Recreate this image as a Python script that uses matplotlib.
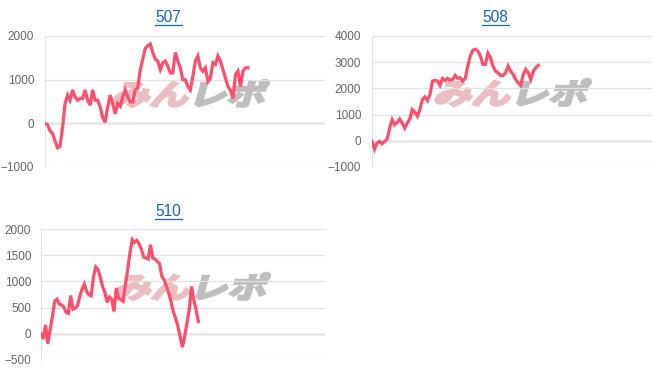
import matplotlib
matplotlib.use("Agg")
from matplotlib import pyplot as plt
from matplotlib.textpath import TextPath
from matplotlib.patches import PathPatch
from matplotlib.font_manager import FontProperties
import matplotlib.transforms as mtransforms
from matplotlib.lines import Line2D


# Data (cumulative difference per machine)
titles = ["507", "508", "510"]

s507 = [0, -31, -172, -226, -406, -562, -530, -94, 452, 647, 530, 764, 608, 530,
        569, 569, 764, 530, 413, 764, 530, 530, 374, 140, 23, 374, 647, 452, 218,
        452, 390, 608, 764, 608, 491, 491, 764, 803, 1232, 1466, 1716, 1778, 1817,
        1622, 1466, 1427, 1232, 1388, 1427, 1310, 1154, 1154, 1622, 1427, 1271,
        998, 998, 842, 764, 1076, 1427, 1544, 1271, 1193, 1271, 959, 1037, 1388,
        1349, 1544, 1427, 1232, 1037, 842, 764, 569, 1115, 1193, 842, 1193, 1271,
        1271]

s508 = [-25, -320, -90, -25, -115, -25, 64, 486, 806, 614, 704, 832, 678, 486,
        678, 832, 1190, 1088, 934, 1190, 1574, 1677, 1536, 1766, 2278, 2304, 2278,
        2112, 2381, 2304, 2381, 2317, 2342, 2496, 2381, 2406, 2278, 2381, 2854,
        3238, 3456, 3494, 3430, 3238, 2918, 2918, 3341, 3174, 2854, 2662, 2598,
        2496, 2496, 2598, 2854, 2662, 2534, 2342, 2214, 2112, 2534, 2726, 2598,
        2342, 2662, 2790, 2880]

s510 = [0, -100, 170, -190, 80, 330, 620, 660, 570, 550, 510, 410, 390, 730, 470,
        490, 535, 713, 850, 950, 810, 745, 726, 1083, 1274, 1223, 1083, 905, 790,
        600, 700, 662, 427, 873, 680, 650, 620, 936, 1223, 1542, 1796, 1745, 1784,
        1720, 1618, 1465, 1446, 1427, 1700, 1446, 1427, 1382, 1337, 1096, 1032,
        905, 777, 620, 427, 300, 153, -50, -255, -50, 204, 459, 905, 650, 459, 236]

series = [s507, s508, s510]
ylims = [(-1000, 2000), (-1000, 4000), (-500, 2000)]
ysteps = [1000, 1000, 500]
fill = [0.725, 0.594, 0.554]   # share of the x axis the data covers

# axes boxes in pixels: left, top, right, bottom
boxes = [(45, 36, 325, 167), (372, 36, 652, 167), (41, 229, 325, 360)]
title_pos = [(168, 17), (495, 17), (168, 211)]
tick_pad = [7.8, 7.8, 7.0]
# lower-left corner of the logo in axes fractions
logo_pos = [(0.239, 0.458), (0.221, 0.465), (0.254, 0.458)]

W, H = 652, 382
fig = plt.figure(figsize=(W / 100, H / 100), dpi=100)

fp = FontProperties(family="Noto Sans CJK JP", weight="bold")
full = TextPath((0, 0), "みんレポ", size=1, prop=fp).get_extents()


def watermark(ax, pos):
	# stylised "みんレポ" logo behind the line, about 153 x 28 px
	sx = 150 / full.width
	sy = 27 / full.height
	parts = [(0, "みん", "#ecbdc0"), (2, "レポ", "#bebebe")]
	for x0, txt, col in parts:
		tp = TextPath((x0, 0), txt, size=1, prop=fp)
		tr = (mtransforms.Affine2D().translate(-full.x0, -full.y0)
		      .scale(sx, sy).skew_deg(16, 0)
		      + mtransforms.ScaledTranslation(pos[0], pos[1], ax.transAxes))
		ax.add_patch(PathPatch(tp, transform=tr, facecolor=col, edgecolor=col,
		                       lw=1.8, zorder=1.5, clip_on=False))


for i in range(3):
	l, t, r, b = boxes[i]
	ax = fig.add_axes([l / W, 1 - b / H, (r - l) / W, (b - t) / H])
	data = series[i]
	x = range(len(data))
	ax.plot(x, data, color="#ff4d6b", lw=2.3, zorder=3, solid_joinstyle="miter")
	ax.set_xlim(0, (len(data) - 1) / fill[i])
	lo, hi = ylims[i]
	ax.set_ylim(lo, hi)
	ax.set_yticks(range(lo, hi + 1, ysteps[i]))
	ax.set_xticks([])
	ax.grid(axis="y", color="#e2e2e2", lw=0.9, zorder=0)
	ax.axhline(0, color="#b0b0b0", lw=1.0, zorder=1)
	for side in ["top", "right", "bottom"]:
		ax.spines[side].set_visible(False)
	ax.spines["left"].set_color("#e2e2e2")
	ax.tick_params(axis="y", length=0, pad=tick_pad[i], labelsize=8.5,
	               labelcolor="#666666")
	for lab in ax.get_yticklabels():
		lab.set_family("Liberation Sans")
	watermark(ax, logo_pos[i])

	tx, ty = title_pos[i]
	fig.text(tx / W, 1 - ty / H, titles[i], ha="center", va="center",
	         fontsize=11.2, color="#1565c8", family="Liberation Sans")
	fig.add_artist(Line2D([(tx - 13.5) / W, (tx + 13.5) / W],
	                      [1 - (ty + 8) / H, 1 - (ty + 8) / H],
	                      color="#1565c8", lw=0.9))

fig.savefig("out.png", dpi=100)
